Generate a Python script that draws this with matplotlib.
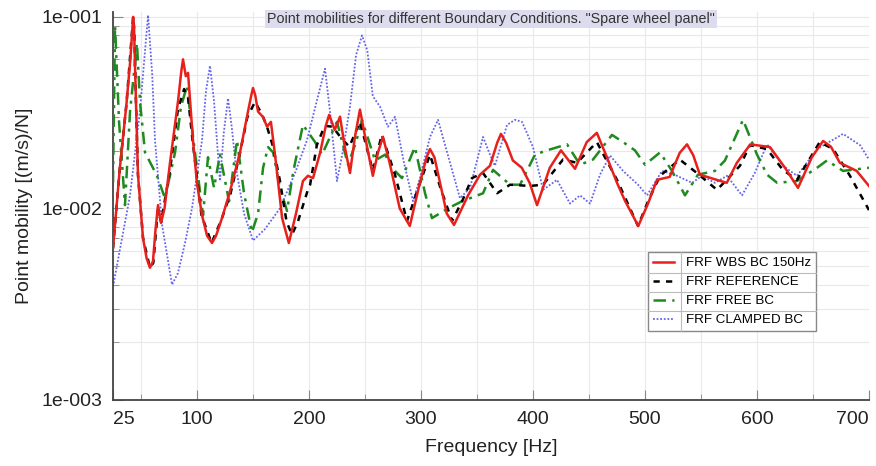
import numpy as np
import matplotlib
matplotlib.use("Agg")
import matplotlib.pyplot as plt
from matplotlib.lines import Line2D
from matplotlib.ticker import FixedLocator, FuncFormatter, LogLocator, NullFormatter

plt.rcParams['font.family'] = ['Liberation Sans', 'DejaVu Sans']

# FRF WBS BC 150Hz (red)
f_wbs = [25, 31, 37, 40.5, 43, 43.8, 45.5, 47.3, 51.8, 55, 58, 60.7, 63, 65.2, 67.9, 71, 75.9, 83,
         86, 87.5, 90, 92, 96.4, 100, 104.5, 109, 113.4, 117, 122.3, 129.5, 138.4, 145.5, 148.5,
         150, 152, 154.5, 159, 162.5, 166, 170.5, 176, 182, 188.4, 194.6, 199, 203.6, 210,
         215, 218, 223, 227.7, 232, 236.6, 241, 245.5, 251, 257, 261.6, 266, 272, 281, 290,
         299, 305, 308, 312, 317, 323, 329.5, 342, 352.7, 361.6, 368, 371.4, 376, 382, 390,
         397, 403.6, 415, 425, 437.5, 448, 457, 466, 475, 482, 494, 502.7, 510.7, 522, 531,
         537.5, 543, 549, 564, 573, 582, 594, 611.6, 625, 636.6, 649, 659, 666, 674, 689, 700]
m_wbs = [0.0062, 0.016, 0.035, 0.06, 0.1, 0.088, 0.036, 0.015, 0.0070, 0.0055, 0.0049, 0.0053,
         0.0078, 0.0104, 0.0084, 0.0100, 0.0173, 0.036, 0.052, 0.060, 0.049, 0.051, 0.0227,
         0.0135, 0.0092, 0.0072, 0.0066, 0.0072, 0.0089, 0.0123, 0.0196, 0.032, 0.039, 0.0425,
         0.039, 0.032, 0.030, 0.0267, 0.0283, 0.0173, 0.0089, 0.0066, 0.0094, 0.0139, 0.0148,
         0.0144, 0.0196, 0.027, 0.0308, 0.0257, 0.0301, 0.0209, 0.0153, 0.0236, 0.0328,
         0.0222, 0.0148, 0.0196, 0.0236, 0.0173, 0.010, 0.0081, 0.0136, 0.0185, 0.0204,
         0.0185, 0.0136, 0.0094, 0.0082, 0.0117, 0.015, 0.0167, 0.022, 0.0245, 0.022, 0.0178,
         0.0163, 0.0136, 0.0104, 0.0163, 0.0201, 0.0161, 0.0222, 0.0248, 0.0185, 0.0136,
         0.011, 0.0081, 0.0106, 0.0141, 0.0146, 0.0195, 0.0216, 0.019, 0.015, 0.0141, 0.0136,
         0.0173, 0.0216, 0.0209, 0.0163, 0.0128, 0.0185, 0.0225, 0.021, 0.0173, 0.0157, 0.0131]

# FRF REFERENCE (black)
f_ref = [25, 31, 37, 43, 44, 45.5, 47.3, 51.8, 58, 61, 65, 68, 76, 83, 88.5, 92, 96, 104, 113,
         122, 130, 138, 145, 151.8, 158, 162.5, 168, 174, 180, 184.8, 190, 199, 201, 207, 214,
         221, 229.5, 236, 245.5, 257, 265, 276.8, 287.5, 298, 308, 317, 327.7, 337, 345.5,
         355.4, 368, 379.5, 397.3, 409, 426.8, 439.3, 457, 475, 493.75, 503, 513.4, 531,
         546.4, 564.3, 584.8, 593.75, 609, 623, 635.7, 656, 668, 683, 700]
m_ref = [0.0062, 0.016, 0.035, 0.1, 0.085, 0.036, 0.015, 0.0070, 0.0049, 0.0052, 0.0098, 0.0085,
         0.016, 0.033, 0.042, 0.038, 0.0227, 0.0092, 0.0066, 0.0088, 0.012, 0.019, 0.030,
         0.036, 0.031, 0.0267, 0.0209, 0.014, 0.0085, 0.0073, 0.0085, 0.0125, 0.0133,
         0.0214, 0.027, 0.0267, 0.023, 0.021, 0.0283, 0.0157, 0.0243, 0.015, 0.0086, 0.013,
         0.0191, 0.013, 0.0086, 0.011, 0.0144, 0.0153, 0.012, 0.0133, 0.0131, 0.0133, 0.018,
         0.0173, 0.0222, 0.0141, 0.0081, 0.011, 0.0148, 0.018, 0.0153, 0.0125, 0.0167,
         0.0214, 0.0204, 0.0159, 0.0141, 0.0222, 0.0204, 0.0148, 0.0098]

# FRF FREE BC (green)
f_free = [25, 26.8, 30.4, 35.7, 40.2, 46.4, 49.1, 53.6, 64.3, 71.4, 80.4, 85.7, 91, 98.2, 105.4,
          109.8, 115.2, 120.5, 128.6, 135.7, 142, 149, 154.5, 159, 163.4, 168, 174, 180.4,
          185.7, 194.6, 205.4, 211.6, 225, 234.8, 242, 247.3, 259, 268, 274, 283, 294.6,
          303.6, 309.8, 324, 336.6, 355.4, 364.3, 379.5, 388.4, 401.8, 412.5, 430.4, 442,
          453.6, 470.5, 480.4, 491, 500, 513.4, 524.1, 535.7, 547.3, 562.5, 571.4, 587.5,
          600, 609, 618, 635.7, 653.6, 662.5, 676.8, 700]
m_free = [0.0136, 0.09, 0.0283, 0.0104, 0.032, 0.0727, 0.036, 0.0196, 0.0148, 0.0113, 0.0196,
          0.034, 0.0435, 0.0196, 0.0092, 0.0185, 0.0128, 0.0191, 0.0109, 0.0227, 0.012,
          0.0075, 0.0094, 0.0163, 0.0209, 0.0196, 0.0128, 0.0097, 0.0153, 0.0273, 0.0222,
          0.0191, 0.0283, 0.0169, 0.0222, 0.029, 0.0178, 0.0191, 0.0163, 0.0144, 0.0209,
          0.012, 0.0089, 0.010, 0.0109, 0.012, 0.0159, 0.0133, 0.0133, 0.0191, 0.0201,
          0.0216, 0.0169, 0.018, 0.0242, 0.0222, 0.0201, 0.0169, 0.0196, 0.0157, 0.0117,
          0.015, 0.0157, 0.0178, 0.029, 0.0191, 0.015, 0.0136, 0.0139, 0.0163, 0.0178,
          0.0157, 0.0163]

# FRF CLAMPED BC (blue)
f_clamp = [25, 40.2, 49, 56.3, 60, 62.5, 68.8, 77.7, 83, 89.3, 95.5, 104.5, 108, 111.6, 115.2,
           120.5, 124, 127.7, 131, 134.8, 142, 150, 160.7, 174, 187.5, 198.2, 208, 214.3,
           218.75, 225, 230, 236.6, 242, 247.3, 252, 257, 263.4, 270.5, 276.8, 284.8, 292.9,
           299, 308, 315.2, 324.1, 334.8, 343.75, 355.4, 361.6, 366, 376.8, 384, 390.2, 400,
           409, 421.4, 433, 442, 451, 459.8, 468.75, 480.4, 493.75, 501.8, 515.2, 528.6, 542,
           550.9, 562.5, 573.2, 586.6, 598, 609, 623.2, 635.7, 653.6, 676.8, 692, 700]
m_clamp = [0.0039, 0.0117, 0.032, 0.102, 0.05, 0.0227, 0.0082, 0.004, 0.0046, 0.0066, 0.01,
           0.0227, 0.0409, 0.0556, 0.0362, 0.0139, 0.0251, 0.0375, 0.0267, 0.0163, 0.0094,
           0.0068, 0.0078, 0.01, 0.0153, 0.0227, 0.0385, 0.0536, 0.032, 0.0139, 0.0196, 0.034,
           0.063, 0.08, 0.067, 0.0385, 0.034, 0.0267, 0.0301, 0.0173, 0.0109, 0.0144, 0.0236,
           0.029, 0.0189, 0.0113, 0.0128, 0.0236, 0.0191, 0.0167, 0.0273, 0.029, 0.0283,
           0.0209, 0.0125, 0.0141, 0.0106, 0.0117, 0.0106, 0.015, 0.0189, 0.0157, 0.0133,
           0.0117, 0.0157, 0.0148, 0.0136, 0.0148, 0.0136, 0.0148, 0.0117, 0.0153, 0.0216,
           0.0167, 0.0148, 0.0204, 0.0245, 0.0214, 0.018]

x_ticks = [25, 100, 200, 300, 400, 500, 600, 700]

fig = plt.figure(figsize=(8.76, 4.66), dpi=100)
ax = fig.add_axes([113 / 876, 66 / 466, 756 / 876, 388 / 466])

ax.plot(f_clamp, m_clamp, color='#4a4ae8', lw=1.3, ls=(0, (1, 1)), alpha=0.85,
        label='FRF CLAMPED BC', zorder=2)
ax.plot(f_free, m_free, color='#1f8a1f', lw=1.8, ls=(0, (5, 2.5, 1.2, 2.5)),
        label='FRF FREE BC', zorder=3)
ax.plot(f_ref, m_ref, color='black', lw=1.8, ls=(0, (2.5, 2.5)), label='FRF REFERENCE', zorder=4)
ax.plot(f_wbs, m_wbs, color='#e8201c', lw=1.8, label='FRF WBS BC 150Hz', zorder=5)

ax.set_yscale('log')
ax.set_xlim(25, 700)
ax.set_ylim(1e-3, 0.106)

ax.xaxis.set_major_locator(FixedLocator(x_ticks))
ax.xaxis.set_minor_locator(FixedLocator(np.arange(50, 700, 100)))
ax.yaxis.set_major_locator(FixedLocator([1e-3, 1e-2, 1e-1]))
ax.yaxis.set_minor_locator(LogLocator(base=10, subs=np.arange(2, 10)))
ax.yaxis.set_minor_formatter(NullFormatter())
ax.yaxis.set_major_formatter(FuncFormatter(lambda v, p: '1e-%03d' % int(round(-np.log10(v)))))

ax.grid(True, which='both', color='#e9e9e9', lw=0.8, zorder=0)
ax.set_axisbelow(True)
for s in ['top', 'right']:
    ax.spines[s].set_visible(False)
for s in ['left', 'bottom']:
    ax.spines[s].set_color('#444444')
    ax.spines[s].set_linewidth(1.3)
ax.tick_params(which='major', direction='in', length=7, color='#888888', labelsize=14,
               labelcolor='#222222', pad=8)
ax.tick_params(which='minor', direction='in', length=4, color='#888888')

# first / last x labels sit inside the axis span
xlabels = ax.get_xticklabels()
xlabels[0].set_horizontalalignment('left')
xlabels[-1].set_horizontalalignment('right')

ax.set_xlabel('Frequency [Hz]', fontsize=14, color='#222222', labelpad=8)
ax.set_ylabel('Point mobility [(m/s)/N]', fontsize=14, color='#222222', labelpad=6)

ax.text(0.5, 0.982, 'Point mobilities for different Boundary Conditions. "Spare wheel panel"',
        transform=ax.transAxes, ha='center', va='center', fontsize=10.3, color='#333333',
        bbox=dict(facecolor='#dcdcee', edgecolor='none', pad=1.5), zorder=6)

h, l = ax.get_legend_handles_labels()
leg = ax.legend(h[::-1], l[::-1], loc='upper left', bbox_to_anchor=(0.7077, 0.381),
                borderaxespad=0, fontsize=9.6, frameon=True, fancybox=False,
                edgecolor='#888888', framealpha=1, handlelength=1.6, handletextpad=0.9,
                borderpad=0.35, labelspacing=0.5)
leg.get_frame().set_linewidth(1.0)

# table-like separators inside the legend box
fig.canvas.draw()
inv = fig.transFigure.inverted()
frame = leg.get_frame().get_window_extent()
tb = [t.get_window_extent() for t in leg.get_texts()]
xsep = min(b.x0 for b in tb) - 5
for xa, ya, xb, yb in [(xsep, frame.y0, xsep, frame.y1)] + \
        [(frame.x0, (tb[i].y0 + tb[i + 1].y1) / 2, frame.x1, (tb[i].y0 + tb[i + 1].y1) / 2)
         for i in range(len(tb) - 1)]:
    (x0, y0), (x1, y1) = inv.transform([(xa, ya), (xb, yb)])
    fig.add_artist(Line2D([x0, x1], [y0, y1], transform=fig.transFigure,
                          color='#bbbbbb', lw=0.8, zorder=10))

fig.savefig('out.png', dpi=100)
